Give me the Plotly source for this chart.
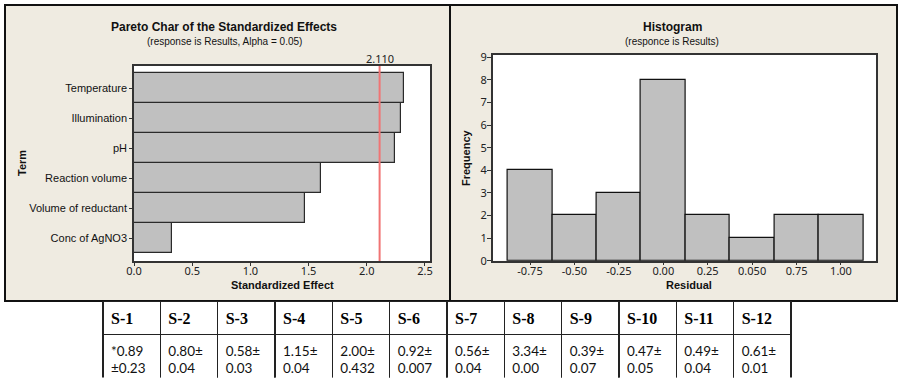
import plotly.graph_objects as go

# ---------------- data ----------------
terms = ["Conc of AgNO3", "Volume of reductant", "Reaction volume", "pH", "Illumination", "Temperature"]
effects = [0.33, 1.47, 1.61, 2.24, 2.29, 2.32]
alpha_ref = 2.110

resid_centers = [-0.75, -0.50, -0.25, 0.00, 0.25, 0.50, 0.75, 1.00]
resid_labels = ["-0.75", "-0.50", "-0.25", "0.00", "0.25", "0.050", "0.75", "1.00"]
frequency = [4, 2, 3, 8, 2, 1, 2, 2]
bin_width = 0.25

samples = ["S-1", "S-2", "S-3", "S-4", "S-5", "S-6", "S-7", "S-8", "S-9", "S-10", "S-11", "S-12"]
line1 = ["*0.89", "0.80±", "0.58±", "1.15±", "2.00±", "0.92±", "0.56±", "3.34±", "0.39±", "0.47±", "0.49±", "0.61±"]
line2 = ["±0.23", "0.04", "0.03", "0.04", "0.432", "0.007", "0.04", "0.00", "0.07", "0.05", "0.04", "0.01"]

# ---------------- figure ----------------
W, H = 903, 378
BEIGE = "#EFEBE1"
BAR = "#C0C0C0"
LBL = "Liberation Sans, Arial, sans-serif"
NUM = "Noto Sans, DejaVu Sans, sans-serif"

def px(x):
    return x / W

def py(y):
    return 1 - y / H

fig = go.Figure()

fig.add_trace(go.Bar(
    x=effects, y=terms, orientation="h",
    marker=dict(color=BAR, line=dict(color="#2a2a2a", width=1.2)),
    xaxis="x", yaxis="y", showlegend=False, hoverinfo="x+y",
))

fig.add_trace(go.Bar(
    x=resid_centers, y=frequency, width=[bin_width] * len(frequency),
    marker=dict(color=BAR, line=dict(color="#111111", width=1.2)),
    xaxis="x2", yaxis="y2", showlegend=False,
))

fig.add_trace(go.Table(
    domain=dict(x=[px(103), px(791)], y=[0, py(301.5)]),
    columnwidth=[1] * len(samples),
    header=dict(
        values=["<b>%s</b>" % s for s in samples],
        height=29, align="left",
        fill=dict(color="white"),
        line=dict(color="#222222", width=1.4),
        font=dict(family="Liberation Serif, Times New Roman, serif", size=16, color="black"),
    ),
    cells=dict(
        values=[["%s<br>%s" % (a, b)] for a, b in zip(line1, line2)],
        height=46, align="left",
        fill=dict(color="white"),
        line=dict(color="#222222", width=1.4),
        font=dict(family="Lato, Carlito, sans-serif", size=13.5, color="#111111"),
    ),
))

shapes = [
    # panels
    dict(type="rect", xref="paper", yref="paper", x0=px(5), x1=px(450), y0=py(301), y1=py(5),
         fillcolor=BEIGE, line=dict(color="#111111", width=2), layer="below"),
    dict(type="rect", xref="paper", yref="paper", x0=px(450), x1=px(897), y0=py(301), y1=py(5),
         fillcolor=BEIGE, line=dict(color="#111111", width=2), layer="below"),
    # white plot areas
    dict(type="rect", xref="x domain", yref="y domain", x0=0, x1=1, y0=0, y1=1,
         fillcolor="white", line=dict(width=0), layer="below"),
    dict(type="rect", xref="x2 domain", yref="y2 domain", x0=0, x1=1, y0=0, y1=1,
         fillcolor="white", line=dict(width=0), layer="below"),
    # reference line
    dict(type="line", xref="x", yref="y domain", x0=alpha_ref, x1=alpha_ref, y0=0, y1=1,
         line=dict(color="#F07474", width=2)),
]

def ann(text, x, y, size, xref="paper", angle=0, color="#111111", family=LBL):
    return dict(text=text, x=x, y=y, xref=xref, yref="paper", xanchor="center", yanchor="middle",
                textangle=angle, showarrow=False, font=dict(family=family, size=size, color=color))

annotations = [
    ann("<b>Pareto Char of the Standardized Effects</b>", px(224), py(27), 12),
    ann("(response is Results, Alpha = 0.05)", px(224), py(41), 10),
    ann("%.3f" % alpha_ref, alpha_ref, py(59), 11, xref="x", color="#222222", family=NUM),
    ann("<b>Term</b>", px(22), py(163), 11, angle=-90),
    ann("<b>Standardized Effect</b>", px(282), py(285), 11),
    ann("<b>Histogram</b>", px(672), py(27), 12),
    ann("(responce is Results)", px(672), py(41), 10),
    ann("<b>Frequency</b>", px(466), py(158), 11, angle=-90),
    ann("<b>Residual</b>", px(689), py(285), 11),
]

axis_common = dict(showgrid=False, zeroline=False, showline=True, mirror=True, automargin=False,
                   linecolor="#333333", linewidth=1.5, ticks="outside", tickcolor="#333333",
                   fixedrange=True)

fig.update_layout(
    template="none",
    width=W, height=H,
    margin=dict(l=0, r=0, t=0, b=0, pad=0, autoexpand=False),
    paper_bgcolor="white", plot_bgcolor="rgba(0,0,0,0)",
    bargap=0, showlegend=False,
    shapes=shapes, annotations=annotations,
    xaxis=dict(domain=[px(134), px(430)], range=[0, 2.543], tickvals=[0, 0.5, 1.0, 1.5, 2.0, 2.5],
               tickformat=".1f", ticklen=3, ticklabelstandoff=-4,
               tickfont=dict(family=NUM, size=11, color="#222222"),
               anchor="y", **axis_common),
    yaxis=dict(domain=[py(261), py(66)], range=[-0.75, 5.74], categoryorder="array", categoryarray=terms,
               ticklen=3, tickfont=dict(family=LBL, size=11, color="#111111"),
               anchor="x", **axis_common),
    xaxis2=dict(domain=[px(492.7), px(876)], range=[-0.96, 1.197], tickvals=resid_centers, ticktext=resid_labels,
                ticklen=3, ticklabelstandoff=-4,
                tickfont=dict(family=NUM, size=11, color="#222222"),
                anchor="y2", **axis_common),
    yaxis2=dict(domain=[py(260.7), py(55)], range=[0, 9.1], tickvals=list(range(10)),
                ticklen=4, ticklabelstandoff=-2,
                tickfont=dict(family=NUM, size=11, color="#222222"),
                anchor="x2", **axis_common),
)

fig.write_html("out.html", config={"displayModeBar": False},
               post_script="document.body.style.margin='0';document.body.style.overflow='hidden';")
